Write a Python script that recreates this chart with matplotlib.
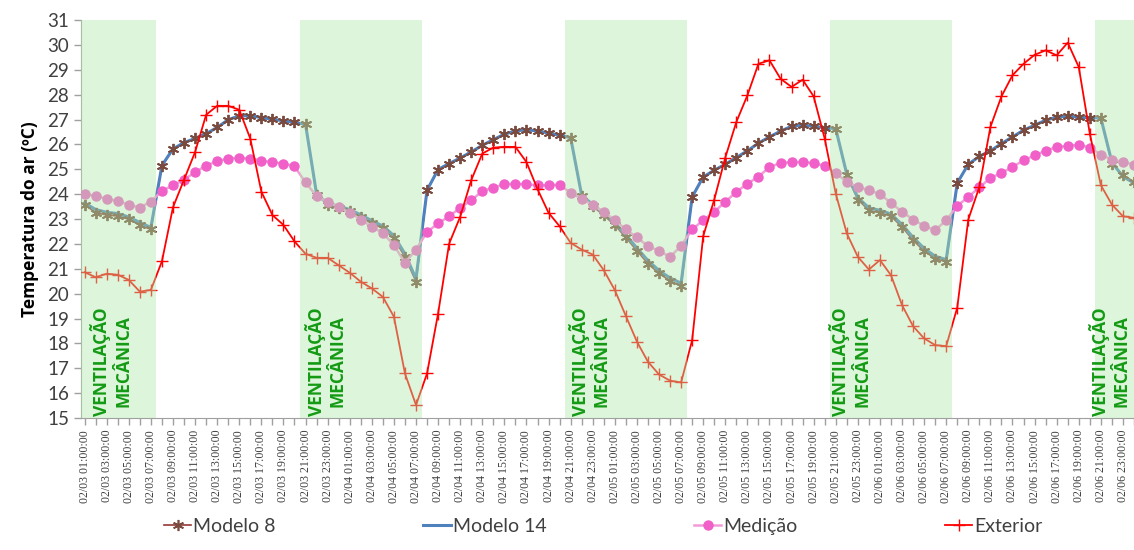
import numpy as np
import pandas as pd
import matplotlib
matplotlib.use("Agg")
import matplotlib.pyplot as plt

# horas: 02/03 01:00 ate 02/07 00:00 (96 valores horarios)
horas = pd.date_range("2013-02-03 01:00", periods=96, freq="h")
rotulos = [h.strftime("%m/%d %H:%M:%S") for h in horas]

exterior = [
    20.86, 20.66, 20.80, 20.76, 20.55, 20.08, 20.15, 21.30, 23.47, 24.58,
    25.69, 27.19, 27.55, 27.55, 27.39, 26.23, 24.10, 23.16, 22.76, 22.10,
    21.60, 21.44, 21.44, 21.14, 20.84, 20.48, 20.21, 19.87, 19.07, 16.79,
    15.52, 16.79, 19.20, 22.01, 23.09, 24.56, 25.63, 25.87, 25.90, 25.90,
    25.29, 24.20, 23.25, 22.71, 22.04, 21.77, 21.57, 20.94, 20.14, 19.10,
    18.07, 17.26, 16.75, 16.50, 16.43, 18.13, 22.31, 23.78, 25.47, 26.90,
    27.97, 29.24, 29.38, 28.64, 28.31, 28.60, 27.93, 26.23, 24.02, 22.42,
    21.48, 20.97, 21.35, 20.74, 19.54, 18.69, 18.20, 17.93, 17.89, 19.44,
    22.98, 24.29, 26.70, 27.93, 28.78, 29.24, 29.60, 29.78, 29.58, 30.09,
    29.11, 26.43, 24.36, 23.58, 23.11, 23.05,
]

modelo8 = [
    23.57, 23.26, 23.16, 23.12, 22.99, 22.76, 22.58, 25.15, 25.82, 26.07,
    26.24, 26.43, 26.68, 26.99, 27.15, 27.15, 27.08, 27.01, 26.95, 26.88,
    26.81, 23.98, 23.58, 23.45, 23.31, 23.09, 22.84, 22.62, 22.22, 21.48,
    20.48, 24.16, 24.99, 25.23, 25.45, 25.70, 25.96, 26.19, 26.41, 26.54,
    26.59, 26.54, 26.46, 26.37, 26.27, 23.92, 23.51, 23.15, 22.75, 22.26,
    21.72, 21.21, 20.81, 20.52, 20.30, 23.89, 24.69, 24.96, 25.20, 25.47,
    25.74, 26.05, 26.30, 26.53, 26.73, 26.77, 26.73, 26.67, 26.63, 24.76,
    23.78, 23.35, 23.25, 23.11, 22.68, 22.15, 21.71, 21.41, 21.28, 24.45,
    25.20, 25.52, 25.74, 26.03, 26.30, 26.57, 26.77, 26.97, 27.10, 27.13,
    27.10, 27.07, 27.06, 25.23, 24.76, 24.50,
]

modelo14 = [
    23.65, 23.38, 23.27, 23.22, 23.08, 22.86, 22.66, 25.15, 25.82, 26.07,
    26.24, 26.43, 26.68, 26.99, 27.15, 27.15, 27.08, 27.01, 26.95, 26.88,
    26.81, 24.00, 23.63, 23.52, 23.38, 23.17, 22.93, 22.72, 22.33, 21.60,
    20.60, 24.16, 24.99, 25.23, 25.45, 25.70, 25.96, 26.19, 26.41, 26.54,
    26.59, 26.54, 26.46, 26.37, 26.27, 23.95, 23.58, 23.23, 22.84, 22.36,
    21.83, 21.33, 20.93, 20.63, 20.42, 23.89, 24.69, 24.96, 25.20, 25.47,
    25.74, 26.05, 26.30, 26.53, 26.73, 26.77, 26.73, 26.67, 26.63, 24.80,
    23.86, 23.45, 23.35, 23.20, 22.78, 22.26, 21.82, 21.50, 21.37, 24.45,
    25.20, 25.52, 25.74, 26.03, 26.30, 26.57, 26.77, 26.97, 27.10, 27.13,
    27.10, 27.07, 27.06, 25.28, 24.70, 24.45,
]

medicao = [
    24.00, 23.93, 23.81, 23.73, 23.57, 23.46, 23.70, 24.13, 24.35, 24.58,
    24.88, 25.15, 25.32, 25.43, 25.46, 25.43, 25.35, 25.28, 25.23, 25.12,
    24.47, 23.92, 23.69, 23.49, 23.25, 22.98, 22.68, 22.44, 21.95, 21.24,
    21.77, 22.48, 22.82, 23.11, 23.45, 23.75, 24.12, 24.26, 24.40, 24.42,
    24.40, 24.35, 24.36, 24.38, 24.05, 23.82, 23.55, 23.29, 22.95, 22.58,
    22.26, 21.91, 21.72, 21.48, 21.92, 22.58, 22.95, 23.29, 23.69, 24.09,
    24.42, 24.70, 25.09, 25.25, 25.29, 25.29, 25.25, 25.13, 24.85, 24.49,
    24.29, 24.16, 24.00, 23.65, 23.29, 22.98, 22.72, 22.55, 22.95, 23.53,
    23.89, 24.27, 24.65, 24.85, 25.09, 25.36, 25.56, 25.74, 25.90, 25.94,
    25.99, 25.87, 25.59, 25.39, 25.29, 25.19,
]

# periodos de ventilacao mecanica (primeira e ultima hora, em indices)
vent_inicio = [0, 20, 44, 68, 92]
vent_fim = [6, 30, 54, 78, 95]
vent_texto_x = [2.4, 21.8, 45.7, 69.3, 92.8]

x = np.arange(len(horas))

fig = plt.figure(figsize=(11.34, 5.5), dpi=100)
ax = fig.add_axes([0.0714, 0.24, 0.9286, 0.7236])

cinza = "#404040"
ax.plot(x, modelo8, color="#953735", lw=1.2, marker=(6, 2, 0), ms=8,
        mec="#7a4a3e", mew=1.2, label="Modelo 8", zorder=2)
ax.plot(x, modelo14, color="#4f81bd", lw=2.2, label="Modelo 14", zorder=3)
ax.plot(x, modelo8, ls="none", marker=(6, 2, 0), ms=8, mec="#7a4a3e",
        mew=1.2, zorder=4)
ax.plot(x, medicao, color="#f39bd8", lw=1.8, marker="o", ms=6.5,
        mfc="#f060c8", mec="#f060c8", label="Medição", zorder=5)
ax.plot(x, exterior, color="#ff0000", lw=1.3, marker="+", ms=8, mew=1.0,
        label="Exterior", zorder=6)

# faixas verdes por cima das curvas
for ini, fim in zip(vent_inicio, vent_fim):
    ax.axvspan(ini - 0.5, fim + 0.5, color="#afe8a7", alpha=0.42, lw=0, zorder=7)
for tx in vent_texto_x:
    ax.text(tx, 15.1, "VENTILAÇÃO\nMECÂNICA", rotation=90, ha="center",
            va="bottom", multialignment="center", color="#149a14",
            fontsize=12.5, fontweight="bold", family="Open Sans",
            linespacing=1.2, zorder=8)

ax.set_xlim(-0.33, 94.8)
ax.set_ylim(15, 31)
ax.set_yticks(range(15, 32))
ax.tick_params(axis="y", labelsize=13.5, colors="#a0a0a0", labelcolor=cinza,
               length=5, width=1)
for t in ax.get_yticklabels():
    t.set_family("Lato")

ax.set_xticks(x[::2])
ax.set_xticklabels(rotulos[::2], rotation=90, fontsize=8.6,
                   family="Liberation Serif", color=cinza)
ax.set_xticks(x[1::2], minor=True)
ax.tick_params(axis="x", which="both", colors="#a0a0a0", labelcolor=cinza,
               length=5, width=1)

for s in ["top", "right"]:
    ax.spines[s].set_visible(False)
for s in ["left", "bottom"]:
    ax.spines[s].set_color("#a0a0a0")

ax.set_ylabel("Temperatura do ar (ºC)", fontsize=12.5, fontweight="bold",
              family="Open Sans", color="#000000", labelpad=6)

leg = fig.legend(loc="lower center", bbox_to_anchor=(0.532, -0.005), ncol=4,
                 frameon=False, handlelength=1.4, handletextpad=0.1,
                 columnspacing=7.6, prop={"family": "Lato", "size": 14})
for t in leg.get_texts():
    t.set_color(cinza)

fig.savefig("out.png", dpi=100)
